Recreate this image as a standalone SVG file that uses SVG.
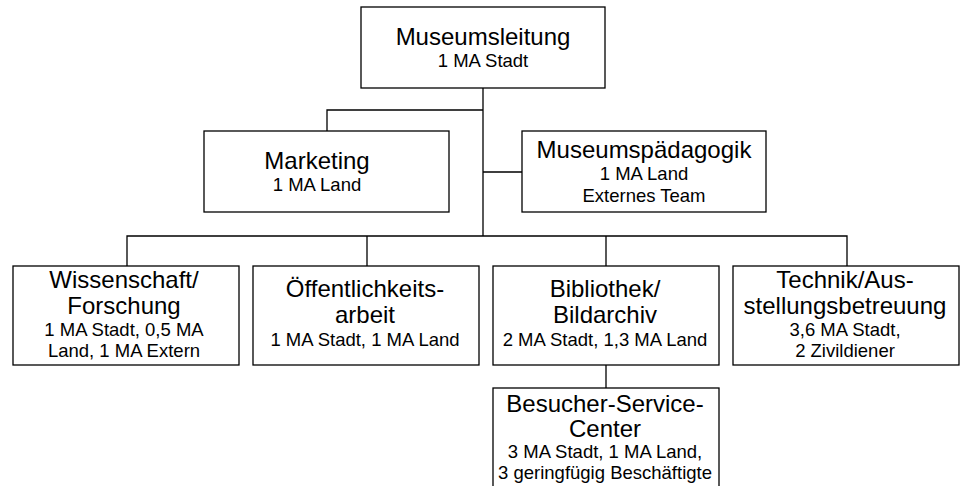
<svg xmlns="http://www.w3.org/2000/svg" width="962" height="486" viewBox="0 0 962 486">
<style>
.box{fill:#fff;stroke:#000;stroke-width:1.3}
.ln{fill:none;stroke:#000;stroke-width:1.3}
text{font-family:"Liberation Sans",Arial,sans-serif;fill:#000;text-anchor:middle}
.t{font-size:24px}
.s{font-size:18.5px}
</style>
<rect width="962" height="486" fill="#fff"/>
<g id="connectors">
<path class="ln" d="M483 88V236M483 110H327V131M483 172H522M127 266V236H847V266M367 236V266M606 236V266M606 365V388"/>
</g>
<g id="museumsleitung">
<rect class="box" x="361" y="7" width="244" height="81"/>
<text class="t" x="483" y="45">Museumsleitung</text>
<text class="s" x="483" y="67">1 MA Stadt</text>
</g>
<g id="marketing">
<rect class="box" x="204" y="131" width="245" height="81"/>
<text class="t" x="317" y="169">Marketing</text>
<text class="s" x="317" y="191">1 MA Land</text>
</g>
<g id="museumspaedagogik">
<rect class="box" x="522" y="131" width="244" height="81"/>
<text class="t" x="644" y="158">Museumspädagogik</text>
<text class="s" x="644" y="180">1 MA Land</text>
<text class="s" x="644" y="202">Externes Team</text>
</g>
<g id="wissenschaft">
<rect class="box" x="13" y="266" width="226" height="99"/>
<text class="t" x="124" y="288">Wissenschaft/</text>
<text class="t" x="124" y="314">Forschung</text>
<text class="s" x="124" y="336">1 MA Stadt, 0,5 MA</text>
<text class="s" x="124" y="357">Land, 1 MA Extern</text>
</g>
<g id="oeffentlichkeitsarbeit">
<rect class="box" x="253" y="266" width="226" height="99"/>
<text class="t" x="365" y="297">Öffentlichkeits-</text>
<text class="t" x="365" y="323">arbeit</text>
<text class="s" x="365" y="346">1 MA Stadt, 1 MA Land</text>
</g>
<g id="bibliothek">
<rect class="box" x="493" y="266" width="226" height="99"/>
<text class="t" x="605" y="297">Bibliothek/</text>
<text class="t" x="605" y="323">Bildarchiv</text>
<text class="s" x="605" y="346">2 MA Stadt, 1,3 MA Land</text>
</g>
<g id="technik">
<rect class="box" x="733" y="266" width="226" height="99"/>
<text class="t" x="845" y="288">Technik/Aus-</text>
<text class="t" x="845" y="314">stellungsbetreuung</text>
<text class="s" x="845" y="336">3,6 MA Stadt,</text>
<text class="s" x="845" y="357">2 Zivildiener</text>
</g>
<g id="besucher-service-center">
<rect class="box" x="493" y="388" width="226" height="110"/>
<text class="t" x="605" y="412">Besucher-Service-</text>
<text class="t" x="605" y="437">Center</text>
<text class="s" x="605" y="458">3 MA Stadt, 1 MA Land,</text>
<text class="s" x="605" y="479">3 geringfügig Beschäftigte</text>
</g>
</svg>
